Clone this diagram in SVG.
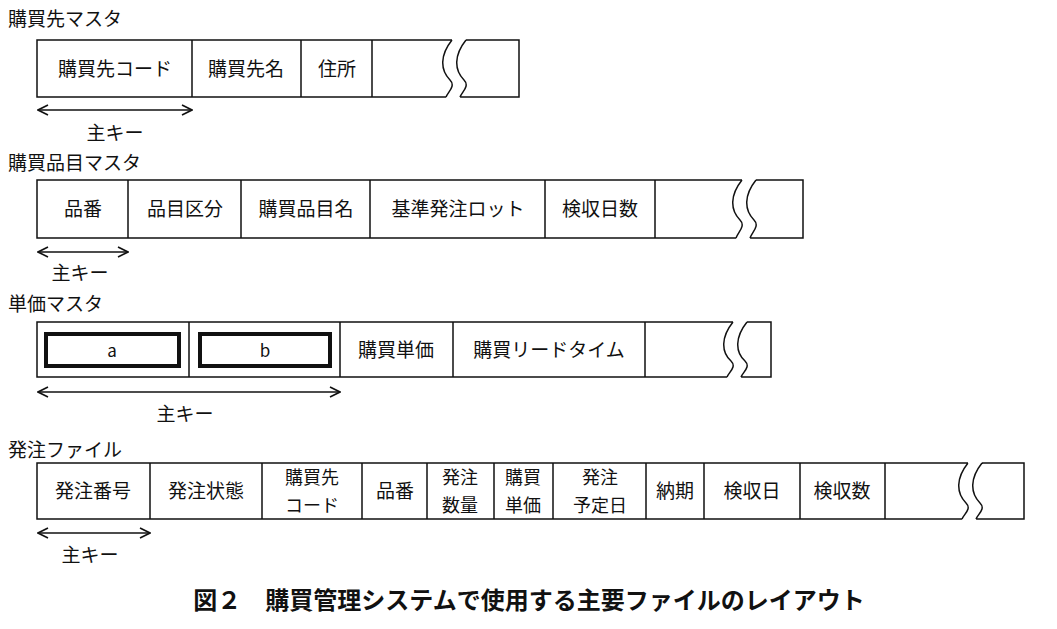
<svg xmlns="http://www.w3.org/2000/svg" width="1057" height="629" viewBox="0 0 1057 629">
<style>
text{font-family:"Noto Sans CJK JP","Liberation Sans",sans-serif;font-size:19px;fill:#111}
.c{text-anchor:middle}
.s{font-size:18px}
.b{fill:none;stroke:#111;stroke-width:1.5}
.k{fill:#fff;stroke:#111;stroke-width:4}
.ar{fill:none;stroke:#111;stroke-width:1.6;marker-start:url(#m);marker-end:url(#m)}
</style>
<defs><marker id="m" viewBox="0 0 12 12" refX="11" refY="6" markerWidth="12" markerHeight="12" markerUnits="userSpaceOnUse" orient="auto-start-reverse"><path d="M1,1 L11,6 L1,11" fill="none" stroke="#111" stroke-width="1.6"/></marker></defs>
<rect width="1057" height="629" fill="#fff"/>
<g id="t1">
<text x="8" y="26">購買先マスタ</text>
<path class="b" d="M452,40 H37 V97 H446 M452,40 C440,55 440,70 450,80 C456,86 448,92 446,97 M466,40 C454,55 454,70 464,80 C470,86 462,92 460,97 M466,40 H519 V97 H460 M192,40V97 M301,40V97 M372,40V97"/>
<text class="c" x="115" y="76">購買先コード</text><text class="c" x="246" y="76">購買先名</text><text class="c" x="337" y="76">住所</text>
<text class="c" x="115" y="140">主キー</text>
</g>
<g id="t2">
<text x="8" y="170">購買品目マスタ</text>
<path class="b" d="M742,180 H37 V238 H736 M742,180 C730,195 730,210 740,220 C746,226 738,232 736,238 M756,180 C744,195 744,210 754,220 C760,226 752,232 750,238 M756,180 H803 V238 H750 M128,180V238 M241,180V238 M370,180V238 M545,180V238 M655,180V238"/>
<text class="c" x="83" y="216">品番</text><text class="c" x="185" y="216">品目区分</text><text class="c" x="306" y="216">購買品目名</text><text class="c" x="458" y="216">基準発注ロット</text><text class="c" x="600" y="216">検収日数</text>
<text class="c" x="80" y="280">主キー</text>
</g>
<g id="t3">
<text x="8" y="311">単価マスタ</text>
<path class="b" d="M733,322 H37 V377 H727 M733,322 C721,337 721,352 731,361 C737,367 729,372 727,377 M747,322 C735,337 735,352 745,361 C751,367 743,372 741,377 M747,322 H771 V377 H741 M189,322V377 M340,322V377 M453,322V377 M645,322V377"/>
<rect class="k" x="46" y="334" width="133" height="32"/><rect class="k" x="200" y="334" width="130" height="32"/>
<text class="c" x="112" y="357" style="font-size:17px">a</text><text class="c" x="265" y="357" style="font-size:17px">b</text>
<text class="c" x="396" y="357">購買単価</text><text class="c" x="549" y="357">購買リードタイム</text>
<text class="c" x="185" y="421">主キー</text>
</g>
<g id="t4">
<text x="8" y="457">発注ファイル</text>
<path class="b" d="M968,463 H37 V519 H962 M968,463 C956,478 956,493 966,503 C972,509 964,514 962,519 M982,463 H1024 V519 H976 M982,463 C970,478 970,493 980,503 C986,509 978,514 976,519 M150,463V519 M262,463V519 M362,463V519 M427,463V519 M494,463V519 M553,463V519 M646,463V519 M704,463V519 M800,463V519 M885,463V519"/>
<text class="c" x="93" y="498">発注番号</text><text class="c" x="206" y="498">発注状態</text>
<text class="c s" x="312" y="484">購買先</text><text class="c s" x="312" y="512">コード</text>
<text class="c" x="395" y="498">品番</text>
<text class="c s" x="460" y="484">発注</text><text class="c s" x="460" y="512">数量</text>
<text class="c s" x="523" y="484">購買</text><text class="c s" x="523" y="512">単価</text>
<text class="c s" x="600" y="484">発注</text><text class="c s" x="600" y="512">予定日</text>
<text class="c" x="675" y="498">納期</text><text class="c" x="752" y="498">検収日</text><text class="c" x="842" y="498">検収数</text>
<text class="c" x="90" y="562">主キー</text>
</g>
<g id="connectors">
<line class="ar" x1="38" y1="110" x2="192" y2="110"/>
<line class="ar" x1="38" y1="252" x2="128" y2="252"/>
<line class="ar" x1="38" y1="392" x2="340" y2="392"/>
<line class="ar" x1="38" y1="533" x2="150" y2="533"/>
</g>
<text class="c" x="529" y="609" style="font-size:24px;font-weight:bold">図２　購買管理システムで使用する主要ファイルのレイアウト</text>
</svg>
